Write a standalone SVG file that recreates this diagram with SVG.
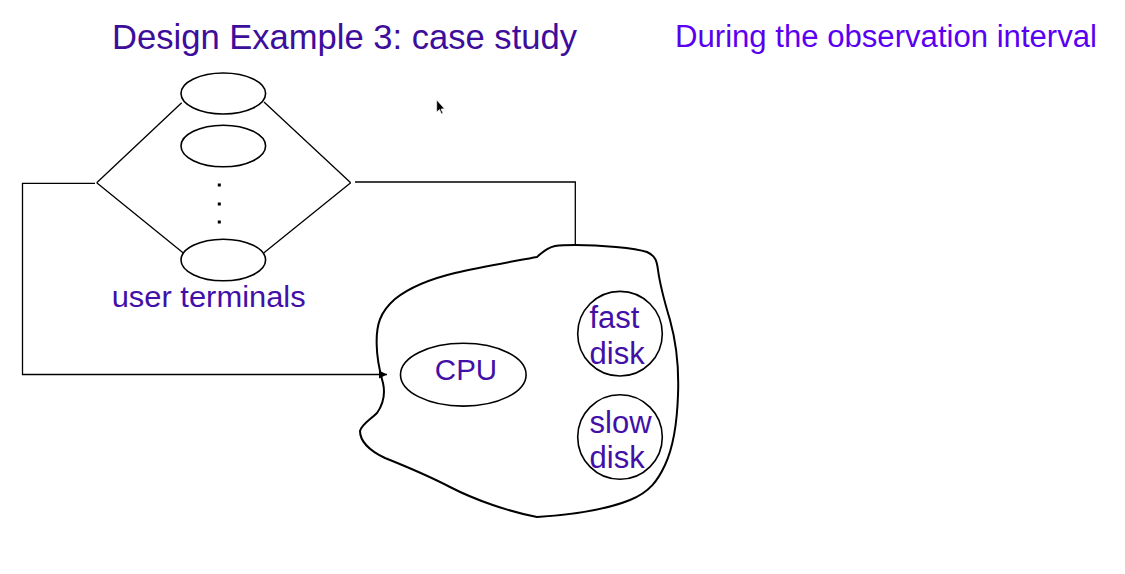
<svg xmlns="http://www.w3.org/2000/svg" width="1125" height="574" viewBox="0 0 1125 574">
<style>
.ln{fill:none;stroke:#000;stroke-width:1.3}
.sh{fill:#fff;stroke:#000;stroke-width:1.6}
.t{font-family:"Liberation Sans",Arial,sans-serif;fill:#4210a8}
</style>
<defs>
<marker id="ah" viewBox="0 0 10 10" refX="10" refY="5" markerWidth="8" markerHeight="8" markerUnits="userSpaceOnUse" orient="auto">
<path d="M0,0 L10,5 L0,10 Z" fill="#000"/>
</marker>
</defs>
<rect width="1125" height="574" fill="#fff"/>
<text class="t" x="112" y="49" font-size="34.5" textLength="465" lengthAdjust="spacingAndGlyphs" style="fill:#3d0d9c">Design Example 3: case study</text>
<text class="t" x="675" y="47" font-size="31" textLength="422" lengthAdjust="spacingAndGlyphs" style="fill:#5a00f2">During the observation interval</text>
<g id="terminals">
<ellipse class="sh" cx="223.3" cy="93.5" rx="42.3" ry="20.5"/>
<ellipse class="sh" cx="223.3" cy="146" rx="42.3" ry="20.8"/>
<ellipse class="sh" cx="223.3" cy="260" rx="42.3" ry="20.8"/>
<rect x="217.8" y="183.5" width="3" height="3" fill="#000"/>
<rect x="217.8" y="202.5" width="3" height="3" fill="#000"/>
<rect x="217.8" y="220.5" width="3" height="3" fill="#000"/>
<text class="t" x="111.7" y="306.5" font-size="30" textLength="194" lengthAdjust="spacingAndGlyphs">user terminals</text>
</g>
<g id="system">
<path fill="#fff" stroke="#000" stroke-width="2" d="M575.3,245 C600,245 635,248 647,252 C656,256 657,262 658,270 C660,285 664,300 670,320 C677,345 679,370 678,395 C677,425 672,450 665,465 C658,480 650,492 630,500 C605,510 570,515 537,517 C510,512 475,500 450,487 C425,474 405,466 385,458 C368,450 360,440 360,431 C362,424 370,420 377,413 C384,403 385,392 383,383 C380,372 377,362 376.7,345 C376,325 380,312 395,299 C410,287 430,279 455,273 C480,267 510,262 537,257 C543,252 546,248 555,246 C562,245 570,245 575.3,245 Z"/>
</g>
<g id="connectors">
<path class="ln" d="M96.7,182.7 L181.7,102.7 M96.7,182.7 L183,252.7 M350.7,182.7 L264,102 M350.7,182.7 L264,252.7"/>
<path class="ln" d="M95,183.3 L22.5,183.3 L22.5,374.5 L387,374.5" marker-end="url(#ah)"/>
<path class="ln" d="M355,182 L575.3,182 L575.3,245"/>
</g>
<g id="cpu">
<ellipse class="sh" cx="463.3" cy="374.7" rx="62.8" ry="31.4"/>
<text class="t" x="466" y="380" font-size="29.5" text-anchor="middle">CPU</text>
</g>
<g id="fastdisk">
<circle class="sh" cx="620" cy="333.7" r="42.3"/>
<text class="t" x="589.5" y="328" font-size="31">fast</text>
<text class="t" x="589.5" y="363.5" font-size="31">disk</text>
</g>
<g id="slowdisk">
<circle class="sh" cx="620" cy="437" r="42.3"/>
<text class="t" x="589.5" y="433" font-size="31">slow</text>
<text class="t" x="589.5" y="468" font-size="31">disk</text>
</g>
<path d="M436.7,100 L436.7,112 L439.5,109.5 L441.5,114 L443,113.3 L441,109 L444.5,108.8 Z" fill="#000" stroke="#fff" stroke-width="0.6"/>
</svg>
